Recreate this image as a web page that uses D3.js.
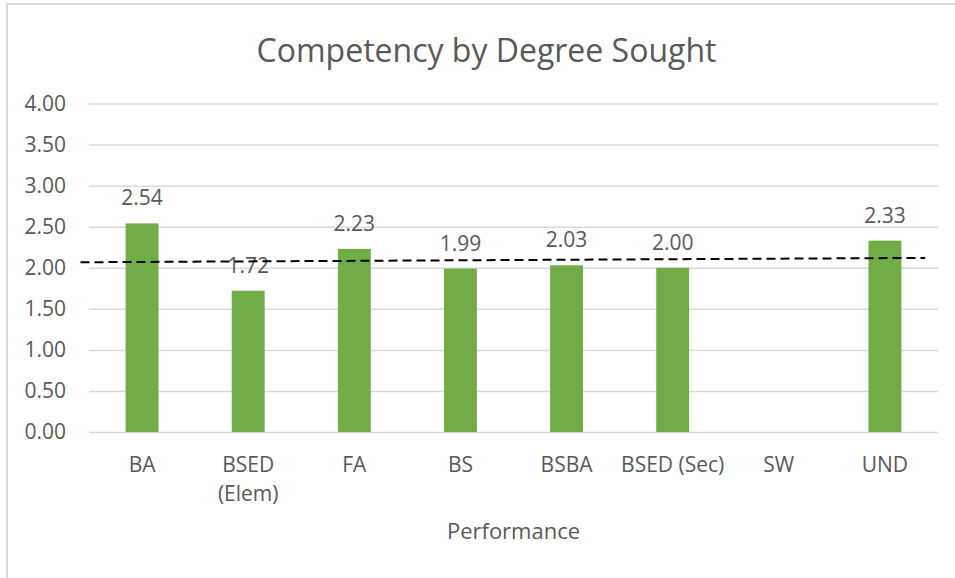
<!DOCTYPE html>
<html>
<head>
<meta charset="utf-8">
<script src="https://cdn.jsdelivr.net/npm/d3@7"></script>
<style>
  body { margin: 0; background: #fff; }
  text { font-family: 'Open Sans', 'Noto Sans', sans-serif; fill: #595959; }
</style>
</head>
<body>
<div id="chart"></div>
<script>
const categories = ['BA', 'BSED (Elem)', 'FA', 'BS', 'BSBA', 'BSED (Sec)', 'SW', 'UND'];
const scores = [2.54, 1.72, 2.23, 1.99, 2.03, 2.00, null, 2.33];
const yTicks = [0, 0.5, 1, 1.5, 2, 2.5, 3, 3.5, 4];
// trendline, x in category index units
const trendX = [-0.58, 7.38];
const trendY = [2.067, 2.12];

const width = 955;
const height = 578;
const margin = { left: 89, right: 17, top: 103.5, bottom: 146 };

const svg = d3.select('#chart')
  .append('svg')
  .attr('width', width)
  .attr('height', height);

// chart border
svg.append('rect')
  .attr('x', 7)
  .attr('y', 4)
  .attr('width', 980)
  .attr('height', 600)
  .attr('fill', 'none')
  .attr('stroke', '#d9d9d9')
  .attr('stroke-width', 2);

const x = d3.scaleBand()
  .domain(categories)
  .range([margin.left, width - margin.right])
  .paddingInner(0.69)
  .paddingOuter(0.345);

const y = d3.scaleLinear()
  .domain([0, 4])
  .range([height - margin.bottom, margin.top]);

// gridlines + labels
const yAxis = d3.axisLeft(y)
  .tickValues(yTicks)
  .tickSize(-(width - margin.left - margin.right))
  .tickPadding(23)
  .tickFormat(d3.format('.2f'));

svg.append('g')
  .attr('transform', 'translate(' + margin.left + ',0)')
  .call(yAxis)
  .call(g => g.select('.domain').remove())
  .call(g => g.selectAll('.tick line')
    .attr('stroke', '#d9d9d9')
    .attr('stroke-width', 1.5))
  .call(g => g.selectAll('.tick text')
    .style('font-size', '21px')
    .attr('fill', '#595959'));

const barData = categories
  .map((c, i) => ({ cat: c, value: scores[i] }))
  .filter(d => d.value !== null);

// bars
svg.selectAll('.bar')
  .data(barData)
  .enter()
  .append('rect')
  .attr('class', 'bar')
  .attr('x', d => x(d.cat))
  .attr('y', d => y(d.value))
  .attr('width', x.bandwidth())
  .attr('height', d => y(0) - y(d.value))
  .attr('fill', '#70ad47');

// data labels
svg.selectAll('.label')
  .data(barData)
  .enter()
  .append('text')
  .attr('class', 'label')
  .attr('x', d => x(d.cat) + x.bandwidth() / 2)
  .attr('y', d => y(d.value) - 18)
  .attr('text-anchor', 'middle')
  .style('font-size', '21px')
  .attr('fill', '#404040')
  .text(d => d3.format('.2f')(d.value));

// trendline
const xIdx = i => x(categories[0]) + x.bandwidth() / 2 + i * x.step();
svg.append('line')
  .attr('x1', xIdx(trendX[0]))
  .attr('x2', xIdx(trendX[1]))
  .attr('y1', y(trendY[0]))
  .attr('y2', y(trendY[1]))
  .attr('stroke', '#000')
  .attr('stroke-width', 2)
  .attr('stroke-dasharray', '9,5');

// category labels
const catLabels = {
  'BSED (Elem)': ['BSED', '(Elem)']
};
svg.selectAll('.cat')
  .data(categories)
  .enter()
  .append('text')
  .attr('class', 'cat')
  .attr('x', d => x(d) + x.bandwidth() / 2)
  .attr('y', 472)
  .attr('text-anchor', 'middle')
  .style('font-size', '21px')
  .each(function (d) {
    const lines = catLabels[d] || [d];
    d3.select(this).selectAll('tspan')
      .data(lines)
      .enter()
      .append('tspan')
      .attr('x', x(d) + x.bandwidth() / 2)
      .attr('dy', (l, i) => i === 0 ? 0 : 29)
      .text(l => l);
  });

// axis title
svg.append('text')
  .attr('x', (margin.left + width - margin.right) / 2)
  .attr('y', 539)
  .attr('text-anchor', 'middle')
  .style('font-size', '22px')
  .text('Performance');

// chart title
svg.append('text')
  .attr('x', 486.5)
  .attr('y', 61.5)
  .attr('text-anchor', 'middle')
  .style('font-size', '32px')
  .text('Competency by Degree Sought');
</script>
</body>
</html>
